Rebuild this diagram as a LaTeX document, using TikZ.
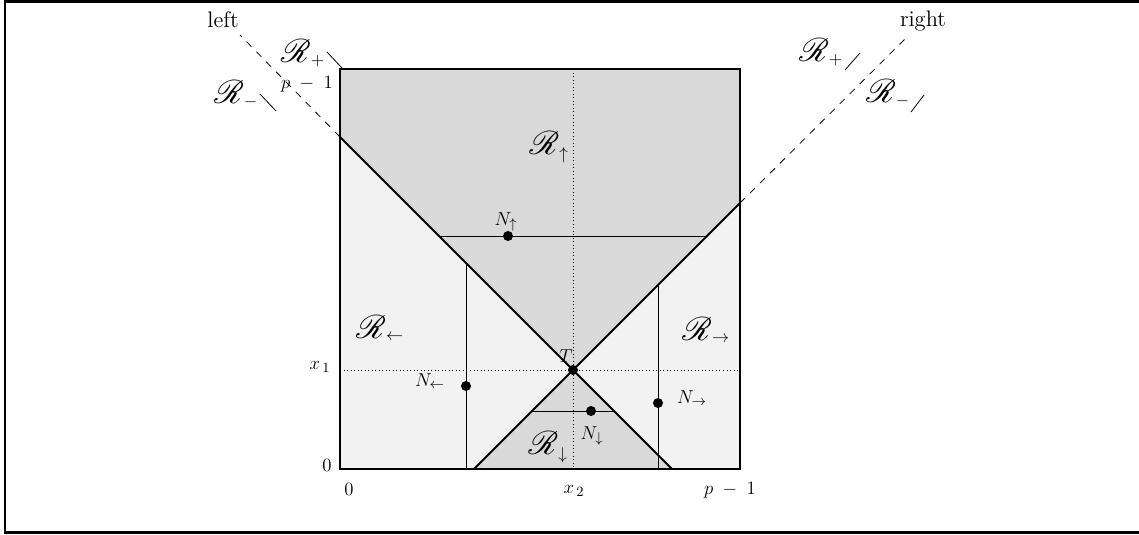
\documentclass[tikz,border=0pt]{standalone}
\usepackage{mathrsfs}
\definecolor{darkreg}{gray}{0.85}
\definecolor{lightreg}{gray}{0.95}
\newcommand{\Rg}[1]{$\scalebox{1.75}{$\mathscr{R}$}_{\mbox{\fontsize{11}{13}\selectfont$#1$}}$}
\begin{document}
\begin{tikzpicture}[x=0.0225cm,y=-0.0225cm,
  thick line/.style={line width=1.3pt},
  thin line/.style={line width=0.5pt},
  dotline/.style={line width=0.55pt,dash pattern=on 0.55pt off 1.7pt},
  dashline/.style={line width=0.5pt,dash pattern=on 4.5pt off 4.5pt},
  dot/.style={circle,fill=black,inner sep=0pt,minimum size=0.225cm},
  lbl/.style={inner sep=0pt,font=\fontsize{12.5}{14}\selectfont},
  word/.style={inner sep=0pt,font=\Large}]
\useasboundingbox (0,0) rectangle (1139,534);
\draw[line width=1.9pt] (5,1.5) rectangle (1143,532.5);
% coordinates
\coordinate (SW) at (340,469);
\coordinate (NW) at (340,69);
\coordinate (NE) at (740,69);
\coordinate (SE) at (740,469);
\coordinate (T0) at (573,370);
\coordinate (Lt) at (340,137);
\coordinate (Rt) at (740,203);
\coordinate (Lb) at (474,469);
\coordinate (Rb) at (672,469);
\coordinate (Ld) at (240,35);
\coordinate (Rd) at (907,37);
\coordinate (X2t) at (573,69);
\coordinate (X2b) at (573,469);
\coordinate (X1l) at (340,370);
\coordinate (X1r) at (740,370);
\coordinate (Ua) at (439,236);
\coordinate (Ub) at (707,236);
\coordinate (La) at (466,263);
\coordinate (Lz) at (466,469);
\coordinate (Ra) at (658,285);
\coordinate (Rz) at (658,469);
\coordinate (Da) at (532,411);
\coordinate (Db) at (614,411);
% fills
\fill[lightreg] (SW) rectangle (NE);
\fill[darkreg] (Lt) -- (T0) -- (Rt) -- (NE) -- (NW) -- cycle;
\fill[darkreg] (Lb) -- (T0) -- (Rb) -- cycle;
% thin lines
\draw[thin line] (Ua) -- (Ub);
\draw[thin line] (La) -- (Lz);
\draw[thin line] (Ra) -- (Rz);
\draw[thin line] (Da) -- (Db);
% dotted
\draw[dotline] (X2t) -- (X2b);
\draw[dotline] (X1l) -- (X1r);
% diagonals
\draw[thick line] (Lt) -- (Rb);
\draw[thick line] (Lb) -- (Rt);
\draw[dashline] (Lt) -- (Ld);
\draw[dashline] (Rt) -- (Rd);
% square
\draw[thick line] (NW) rectangle (SE);
% dots
\node[dot] (T) at (573,370) {};
\node[dot] (Nu) at (508,236) {};
\node[dot] (Nl) at (466,386) {};
\node[dot] (Nr) at (658,403) {};
\node[dot] (Nd) at (591,411) {};
% labels
\node[word] (left) at (223,20) {left};
\node[word] (right) at (923,21) {right};
\node[lbl] (Rpl) at (303,53) {\Rg{+}};
\node[lbl] (Rml) at (236,94) {\Rg{-}};
\node[lbl] (Rpr) at (821,52) {\Rg{+}};
\node[lbl] (Rmr) at (888,93) {\Rg{-}};
\coordinate (s1a) at (327,52); \coordinate (s1b) at (342,68);
\coordinate (s2a) at (260,94); \coordinate (s2b) at (276,111);
\coordinate (s3a) at (845,70); \coordinate (s3b) at (860,53);
\coordinate (s4a) at (911,112); \coordinate (s4b) at (924,95);
\draw[thin line] (s1a) -- (s1b);
\draw[thin line] (s2a) -- (s2b);
\draw[thin line] (s3a) -- (s3b);
\draw[thin line] (s4a) -- (s4b);
\node[lbl] (Ru) at (549,147) {\Rg{\uparrow}};
\node[lbl] (Rl) at (380,328) {\Rg{\leftarrow}};
\node[lbl] (Rr) at (706,330) {\Rg{\rightarrow}};
\node[lbl] (Rd2) at (548,447) {\Rg{\downarrow}};
\node[lbl] (Tl) at (566,356) {$T$};
\node[lbl] (Nul) at (506,222) {$N_{\uparrow}$};
\node[lbl] (Nll) at (430,381) {$N_{\leftarrow}$};
\node[lbl] (Nrl) at (692,398) {$N_{\rightarrow}$};
\node[lbl] (Ndl) at (592,436) {$N_{\downarrow}$};
\node[lbl] (x1) at (320,367) {$x_{\,1}$};
\node[lbl] (zl) at (327,465) {$0$};
\node[lbl] (pt) at (307,84) {$p\;-\;1$};
\node[lbl] (zb) at (349,489) {$0$};
\node[lbl] (x2) at (574,491) {$x_{\,2}$};
\node[lbl] (pb) at (730,490) {$p\;-\;1$};
\end{tikzpicture}
\end{document}
